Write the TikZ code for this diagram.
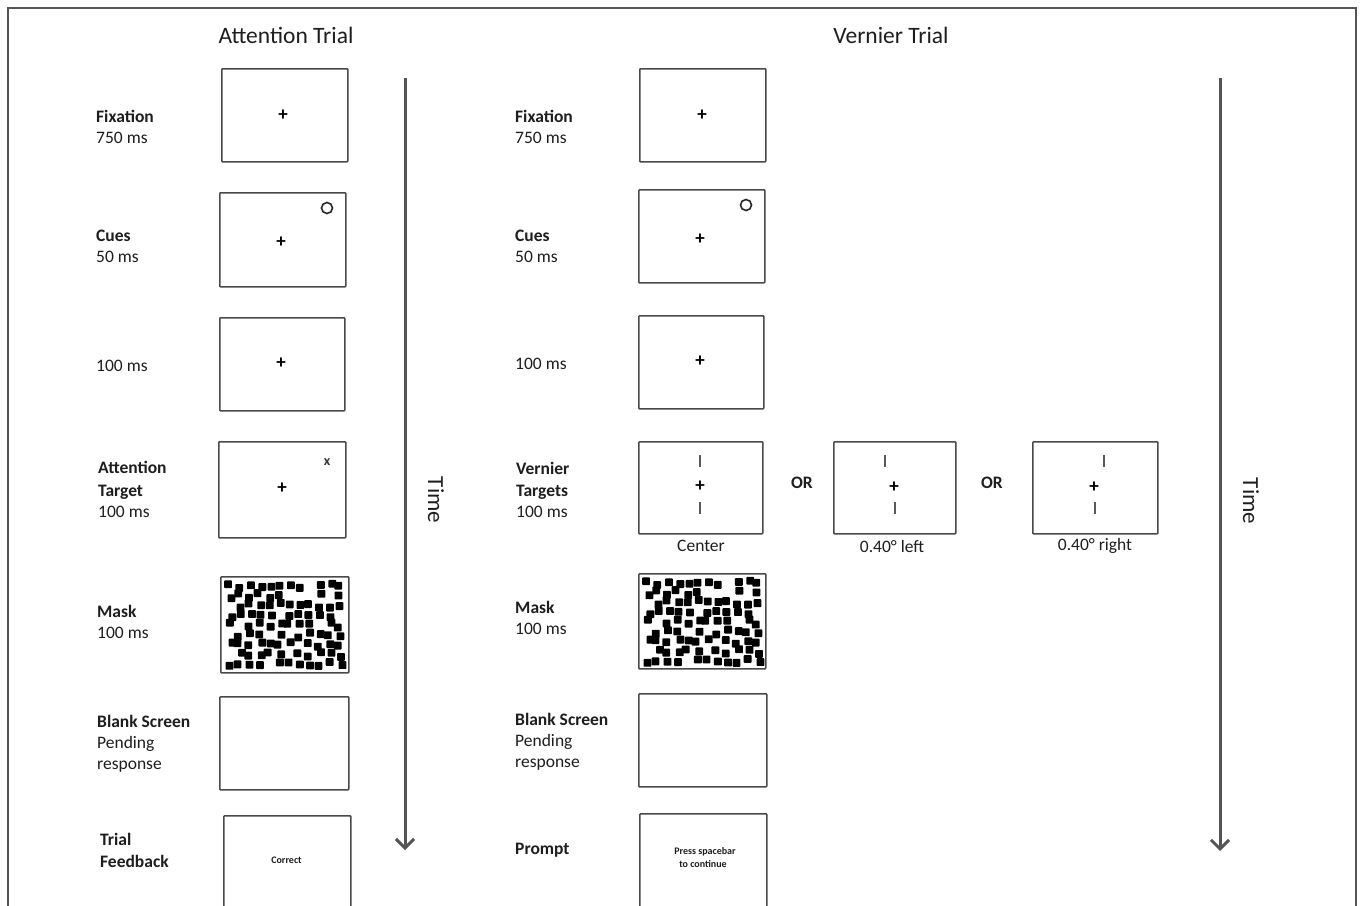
\documentclass[tikz,border=0pt]{standalone}
\usepackage{fontspec}
\setmainfont{Carlito}
\usetikzlibrary{arrows.meta}
\definecolor{boxgray}{HTML}{4A4A4A}
\definecolor{arrgray}{HTML}{555555}
\definecolor{txt}{HTML}{1E1E1E}
\tikzset{
  screen/.style={draw=boxgray, line width=1.5pt, fill=white, anchor=north west, inner sep=0pt, rounded corners=0.8pt},
  lbl/.style={anchor=base west, inner sep=0pt, text=txt, font=\fontsize{17.5}{21}\selectfont},
  blbl/.style={lbl, font=\fontsize{17.5}{21}\selectfont\bfseries},
  ttl/.style={inner sep=0pt, text=txt, font=\fontsize{23.5}{28}\selectfont},
  timelbl/.style={inner sep=0pt, text=txt, rotate=-90, font=\fontsize{23}{28}\selectfont},
  fixplus/.style={inner sep=0pt, text=black, font=\fontsize{19}{19}\selectfont\bfseries},
  cuecirc/.style={draw=black!85, line width=1.6pt, circle, minimum size=11pt, inner sep=0pt},
  tick/.style={draw=black!65, line width=1.2pt},
  orlbl/.style={inner sep=0pt, text=txt, font=\fontsize{17.5}{21}\selectfont\bfseries},
  caplbl/.style={inner sep=0pt, text=txt, font=\fontsize{17.5}{21}\selectfont},
  smalltxt/.style={inner sep=0pt, text=txt, font=\fontsize{10}{12}\selectfont\bfseries},
  timearrow/.style={draw=arrgray, line width=3pt, -{Straight Barb[length=9pt,width=18pt,line width=3pt]}},
  frameline/.style={draw=arrgray, line width=1.3pt},
  masksq/.style={fill=black, rounded corners=0.8pt}
}
\newcommand\drawmaskpattern[2]{%
  \pgfmathsetseed{2718}%
  \foreach \ii in {0,...,11}{%
    \foreach \jj in {0,...,8}{%
      \pgfmathsetmacro\mdx{rand*2.6}%
      \pgfmathsetmacro\mdy{rand*2.6}%
      \pgfmathsetmacro\mkeep{rnd}%
      \ifdim\mkeep pt>0.1pt
        \fill[masksq] ({#1+6+\ii*10+\mdx},{#2+6+\jj*9.8+\mdy}) rectangle ++(7.8,7.8);
      \fi
    }%
  }%
}
\begin{document}
\begin{tikzpicture}[x=1pt,y=-1pt]
\useasboundingbox (0,0) rectangle (1360,905);
\fill[white] (0,0) rectangle (1360,905);
% outer frame
\draw[frameline] (8,910) -- (8,8) -- (1356,8) -- (1356,910);

% titles
\node[ttl] (tA) at (286,35) {Attention Trial};
\node[ttl] (tV) at (891,35) {Vernier Trial};

% ---------- Attention trial ----------
\node[screen, minimum width=126pt, minimum height=93pt] (aF) at (221,68) {};
\node[fixplus] (aFp) at (283,115) {+};
\node[blbl] (aFl1) at (96,122) {Fixation};
\node[lbl] (aFl2) at (96,143) {750 ms};

\node[screen, minimum width=126pt, minimum height=94pt] (aC) at (219,192) {};
\node[fixplus] (aCp) at (281,242) {+};
\node[cuecirc] (aCc) at (327,208) {};
\node[blbl] (aCl1) at (96,241) {Cues};
\node[lbl] (aCl2) at (96,262) {50 ms};

\node[screen, minimum width=125pt, minimum height=93pt] (aB) at (219,317) {};
\node[fixplus] (aBp) at (281,363) {+};
\node[lbl] (aBl1) at (96,371) {100 ms};

\node[screen, minimum width=127pt, minimum height=96pt] (aT) at (218,441) {};
\node[fixplus] (aTp) at (282,488) {+};
\node[inner sep=0pt, font=\fontsize{14}{14}\selectfont\bfseries, text=black!80] (aTx) at (327,462) {x};
\node[blbl] (aTl1) at (98,473) {Attention};
\node[blbl] (aTl2) at (98,496) {Target};
\node[lbl] (aTl3) at (98,517) {100 ms};

\node[screen, minimum width=128pt, minimum height=96pt] (aM) at (220,576) {};
\drawmaskpattern{220}{576}
\node[blbl] (aMl1) at (97,617) {Mask};
\node[lbl] (aMl2) at (97,638) {100 ms};

\node[screen, minimum width=129pt, minimum height=93pt] (aK) at (219,696) {};
\node[blbl] (aKl1) at (97,727) {Blank Screen};
\node[lbl] (aKl2) at (97,748) {Pending};
\node[lbl] (aKl3) at (97,769) {response};

\node[screen, minimum width=127pt, minimum height=95pt] (aR) at (223,815) {};
\node[smalltxt] (aRt) at (286.5,860) {Correct};
\node[blbl] (aRl1) at (100,845) {Trial};
\node[blbl] (aRl2) at (100,867) {Feedback};

% time arrow (attention)
\coordinate (aArS) at (405,78);
\coordinate (aArE) at (405,850);
\draw[timearrow] (aArS) -- (aArE);
\node[timelbl] (aTime) at (436,500) {Time};

% ---------- Vernier trial ----------
\node[screen, minimum width=126pt, minimum height=93pt] (vF) at (639,68) {};
\node[fixplus] (vFp) at (702,115) {+};
\node[blbl] (vFl1) at (515,122) {Fixation};
\node[lbl] (vFl2) at (515,143) {750 ms};

\node[screen, minimum width=126pt, minimum height=93pt] (vC) at (638,189) {};
\node[fixplus] (vCp) at (700,239) {+};
\node[cuecirc] (vCc) at (746,205) {};
\node[blbl] (vCl1) at (515,241) {Cues};
\node[lbl] (vCl2) at (515,262) {50 ms};

\node[screen, minimum width=125pt, minimum height=93pt] (vB) at (638,315) {};
\node[fixplus] (vBp) at (700,361) {+};
\node[lbl] (vBl1) at (515,369) {100 ms};

\node[screen, minimum width=124pt, minimum height=92pt] (vT) at (638,441) {};
\node[fixplus] (vTp) at (700,486) {+};
\draw[tick] (700,455) -- (700,467);
\draw[tick] (700,502) -- (700,514);
\node[caplbl] (vTc) at (701,546) {Center};
\node[blbl] (vTl1) at (516,474) {Vernier};
\node[blbl] (vTl2) at (516,496) {Targets};
\node[lbl] (vTl3) at (516,517) {100 ms};

\node[orlbl] (or1) at (802,483) {OR};

\node[screen, minimum width=122pt, minimum height=92pt] (vL) at (833,441) {};
\node[fixplus] (vLp) at (894,487) {+};
\draw[tick] (885,455) -- (885,467);
\draw[tick] (895,502) -- (895,514);
\node[caplbl] (vLc) at (892,546) {0.40° left};

\node[orlbl] (or2) at (992,483) {OR};

\node[screen, minimum width=125pt, minimum height=92pt] (vR) at (1032,441) {};
\node[fixplus] (vRp) at (1094,487) {+};
\draw[tick] (1104,455) -- (1104,467);
\draw[tick] (1095,502) -- (1095,514);
\node[caplbl] (vRc) at (1095,546) {0.40° right};

\node[screen, minimum width=127pt, minimum height=95pt] (vM) at (638,573) {};
\drawmaskpattern{638}{573}
\node[blbl] (vMl1) at (515,613) {Mask};
\node[lbl] (vMl2) at (515,634) {100 ms};

\node[screen, minimum width=128pt, minimum height=93pt] (vK) at (638,693) {};
\node[blbl] (vKl1) at (515,725) {Blank Screen};
\node[lbl] (vKl2) at (515,746) {Pending};
\node[lbl] (vKl3) at (515,767) {response};

\node[screen, minimum width=127pt, minimum height=96pt] (vP) at (639,813) {};
\node[smalltxt] (vPt1) at (705,852) {Press spacebar};
\node[smalltxt] (vPt2) at (703,864) {to continue};
\node[blbl] (vPl1) at (515,854) {Prompt};

% time arrow (vernier)
\coordinate (vArS) at (1220,78);
\coordinate (vArE) at (1220,851);
\draw[timearrow] (vArS) -- (vArE);
\node[timelbl] (vTime) at (1251,501) {Time};
\end{tikzpicture}
\end{document}
